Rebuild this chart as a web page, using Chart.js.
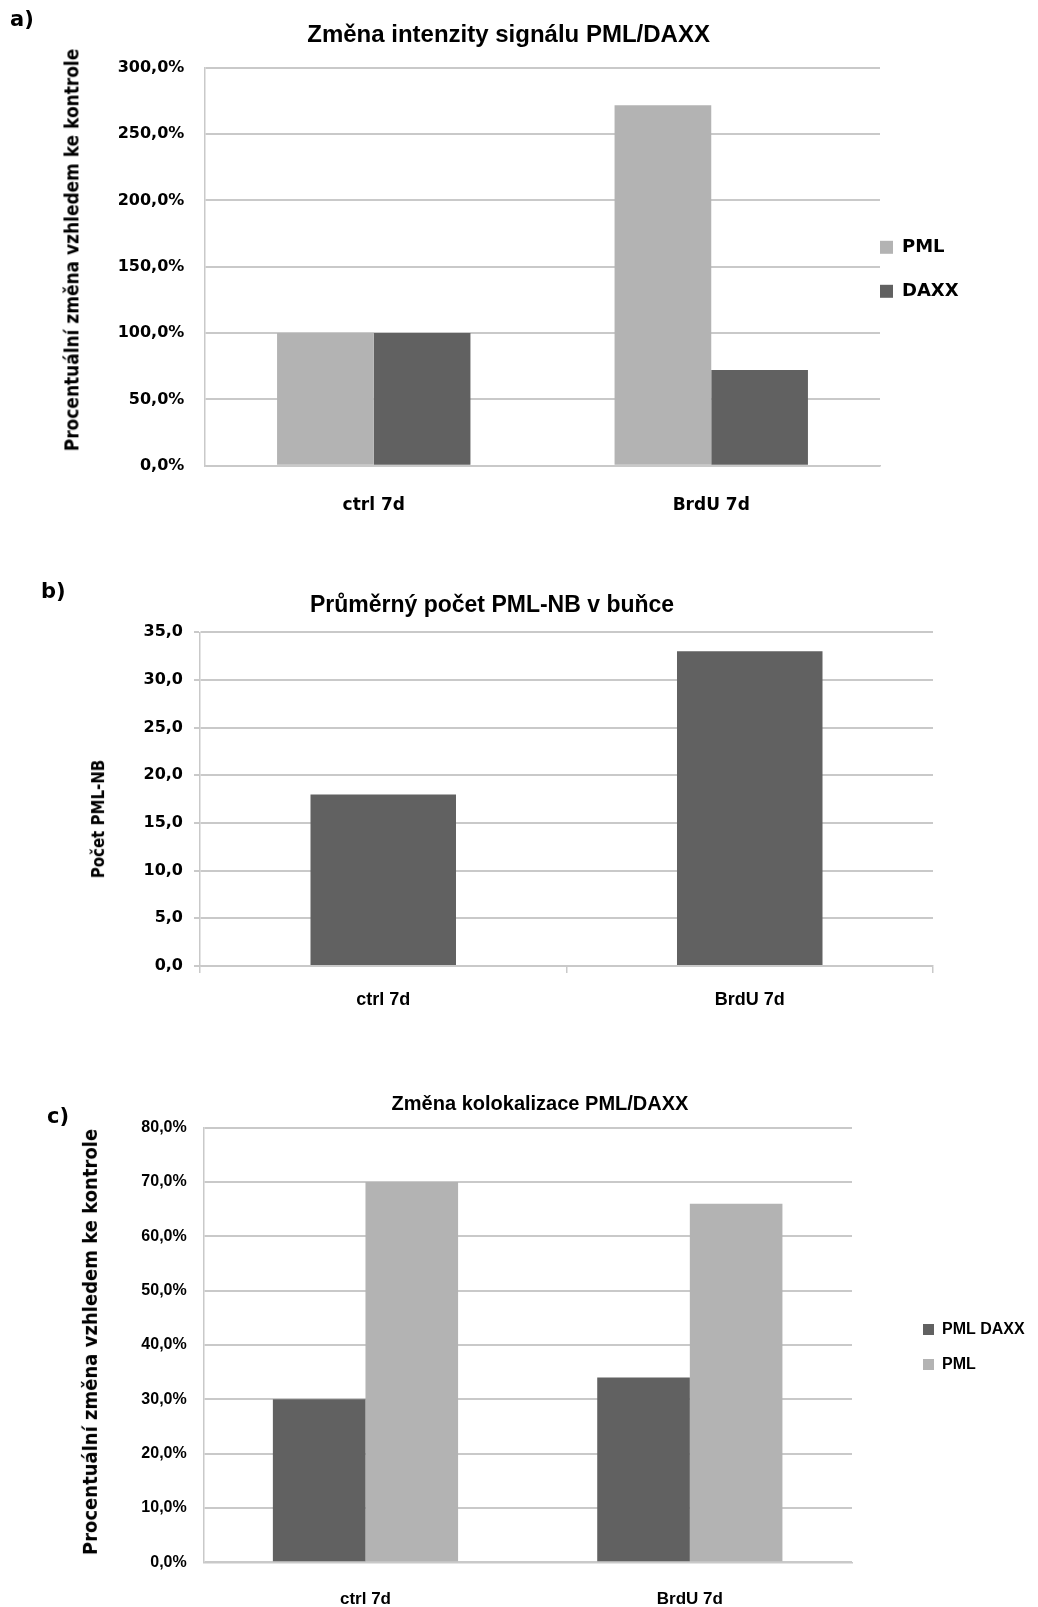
<!DOCTYPE html>
<html lang="cs">
<head>
<meta charset="utf-8">
<title>PML / DAXX</title>
<script src="https://cdn.jsdelivr.net/npm/chart.js@4.4.1/dist/chart.umd.min.js"></script>
<style>
  body { margin: 0; background: #fff; }
  #page { position: relative; width: 1038px; height: 1607px; overflow: hidden; }
  canvas { position: absolute; left: 0; }
  .panel { position: absolute; font: bold 21px "DejaVu Sans", sans-serif; line-height: 1; }
  .ytitle { position: absolute; font-family: "DejaVu Sans", sans-serif; font-weight: bold;
            white-space: nowrap; line-height: 1; }
</style>
</head>
<body>
<div id="page">
  <canvas id="chartA" width="1038" height="545" style="top:0"></canvas>
  <canvas id="chartB" width="1038" height="500" style="top:545px"></canvas>
  <canvas id="chartC" width="1038" height="562" style="top:1045px"></canvas>

  <div class="panel" style="left:10px;top:9px">a)</div>
  <div class="panel" style="left:41px;top:581px">b)</div>
  <div class="panel" style="left:47px;top:1106px">c)</div>

  <div class="ytitle" style="left:72px;top:250px;font-size:17px;transform:translate(-50%,-50%) rotate(-90deg) scaleY(1.1)">Procentuální změna vzhledem ke kontrole</div>
  <div class="ytitle" style="left:99px;top:819px;font-size:15px;transform:translate(-50%,-50%) rotate(-90deg) scaleY(1.15)">Počet PML-NB</div>
  <div class="ytitle" style="left:90px;top:1342px;font-size:18px;transform:translate(-50%,-50%) rotate(-90deg) scaleY(1.1)">Procentuální změna vzhledem ke kontrole</div>
</div>

<script>
const categories = ["ctrl 7d", "BrdU 7d"];

// a) change of signal intensity, % of control
const intensityPML = [100, 271.7];
const intensityDAXX = [100, 72.1];
const intensityMax = 300, intensityStep = 50;

// b) mean number of PML-NB per cell
const nbCount = [18.0, 33.0];
const nbMax = 35, nbStep = 5;

// c) change of PML/DAXX colocalisation
const colocPMLDAXX = [30, 34];
const colocPML = [70, 66];
const colocMax = 80, colocStep = 10;

const LIGHT = "#b3b3b3";
const DARK = "#616161";
const GRID = "#c9c9c9";
const WIDE = "'DejaVu Sans', sans-serif";
const SANS = "'Liberation Sans', Arial, sans-serif";

Chart.defaults.color = "#000";

// 12.5 -> "12,5"
const czech = (v, unit) => v.toFixed(1).replace(".", ",") + unit;

// legend to the right of the plot, items spaced by the label line height
function sideLegend(font, box, spacing, shift, maxWidth) {
  return {
    position: "right",
    maxWidth: maxWidth,
    labels: {
      boxWidth: box,
      boxHeight: box,
      padding: 0,
      color: "#000",
      font: Object.assign({}, font, { lineHeight: spacing / font.size }),
      generateLabels: chart =>
        Chart.defaults.plugins.legend.labels.generateLabels(chart).map(l => Object.assign(l, { text: [l.text] }))
    },
    title: { display: true, text: "", font: { size: 10, lineHeight: 1 }, padding: { top: 0, bottom: shift - 10 } }
  };
}

function titleOpts(text, size, top, bottom) {
  return {
    display: true,
    text: text,
    color: "#000",
    font: { family: SANS, size: size, weight: "bold" },
    padding: { top: top, bottom: bottom }
  };
}

// a)
new Chart(document.getElementById("chartA"), {
  type: "bar",
  data: {
    labels: categories,
    datasets: [
      { label: "PML", data: intensityPML, backgroundColor: LIGHT },
      { label: "DAXX", data: intensityDAXX, backgroundColor: DARK }
    ]
  },
  options: {
    responsive: false,
    animation: false,
    layout: { padding: { left: 57.2, right: 78, top: 0, bottom: 0 } },
    datasets: { bar: { categoryPercentage: 0.573, barPercentage: 1 } },
    plugins: {
      title: titleOpts("Změna intenzity signálu PML/DAXX", 24, 21.1, 17.8),
      legend: sideLegend({ family: WIDE, size: 18, weight: "bold" }, 13, 44, 19.6, 80),
      tooltip: { enabled: false }
    },
    scales: {
      x: {
        grid: { display: false, drawTicks: false },
        border: { color: GRID, width: 1.5 },
        ticks: { font: { family: WIDE, size: 17, weight: "bold" }, padding: 30 },
        afterFit: s => { s.height = 79.3; }
      },
      y: {
        min: 0,
        max: intensityMax,
        grid: { color: GRID, lineWidth: 2, drawTicks: false },
        border: { color: GRID, width: 1.5 },
        ticks: { stepSize: intensityStep, callback: v => czech(v, "%"),
                 font: { family: WIDE, size: 16, weight: "bold" }, padding: 20.7 },
        afterFit: s => { s.width = 147.8; }
      }
    }
  }
});

// b)
new Chart(document.getElementById("chartB"), {
  type: "bar",
  data: {
    labels: categories,
    datasets: [{ label: "PML-NB", data: nbCount, backgroundColor: DARK }]
  },
  options: {
    responsive: false,
    animation: false,
    layout: { padding: { left: 51, right: 105, top: 0, bottom: 0 } },
    datasets: { bar: { categoryPercentage: 0.397, barPercentage: 1 } },
    plugins: {
      title: titleOpts("Průměrný počet PML-NB v buňce", 23, 46.7, 13),
      legend: { display: false },
      tooltip: { enabled: false }
    },
    scales: {
      x: {
        grid: { display: true, offset: true, drawOnChartArea: false, drawTicks: true, tickLength: 7, color: GRID, lineWidth: 1.5 },
        border: { color: GRID, width: 1.5 },
        ticks: { font: { family: SANS, size: 18, weight: "bold" }, padding: 16 },
        afterFit: s => { s.height = 79; }
      },
      y: {
        min: 0,
        max: nbMax,
        grid: { color: GRID, lineWidth: 2, drawTicks: true, tickLength: 6 },
        border: { color: GRID, width: 1.5 },
        ticks: { stepSize: nbStep, callback: v => czech(v, ""),
                 font: { family: WIDE, size: 16, weight: "bold" }, padding: 11 },
        afterFit: s => { s.width = 149; }
      }
    }
  }
});

// c)
new Chart(document.getElementById("chartC"), {
  type: "bar",
  data: {
    labels: categories,
    datasets: [
      { label: "PML DAXX", data: colocPMLDAXX, backgroundColor: DARK },
      { label: "PML", data: colocPML, backgroundColor: LIGHT }
    ]
  },
  options: {
    responsive: false,
    animation: false,
    layout: { padding: { left: 47, right: 5, top: 0, bottom: 0 } },
    datasets: { bar: { categoryPercentage: 0.571, barPercentage: 1 } },
    plugins: {
      title: titleOpts("Změna kolokalizace PML/DAXX", 20, 47.6, 11.1),
      legend: sideLegend({ family: SANS, size: 16, weight: "bold" }, 11, 35, 61, 110),
      tooltip: { enabled: false }
    },
    scales: {
      x: {
        grid: { display: false, drawTicks: false },
        border: { color: GRID, width: 1.5 },
        ticks: { font: { family: SANS, size: 17, weight: "bold" }, padding: 26.5 },
        afterFit: s => { s.height = 44.7; }
      },
      y: {
        min: 0,
        max: colocMax,
        grid: { color: GRID, lineWidth: 2, drawTicks: false },
        border: { color: GRID, width: 1.5 },
        ticks: { stepSize: colocStep, callback: v => czech(v, "%"),
                 font: { family: SANS, size: 16, weight: "bold" }, padding: 16.6 },
        afterFit: s => { s.width = 156.3; }
      },
      // empty strip between the plot and the legend
      gap: {
        type: "linear",
        position: "right",
        grid: { display: false },
        border: { display: false },
        ticks: { display: false },
        afterFit: s => { s.width = 71; }
      }
    }
  }
});
</script>
</body>
</html>
